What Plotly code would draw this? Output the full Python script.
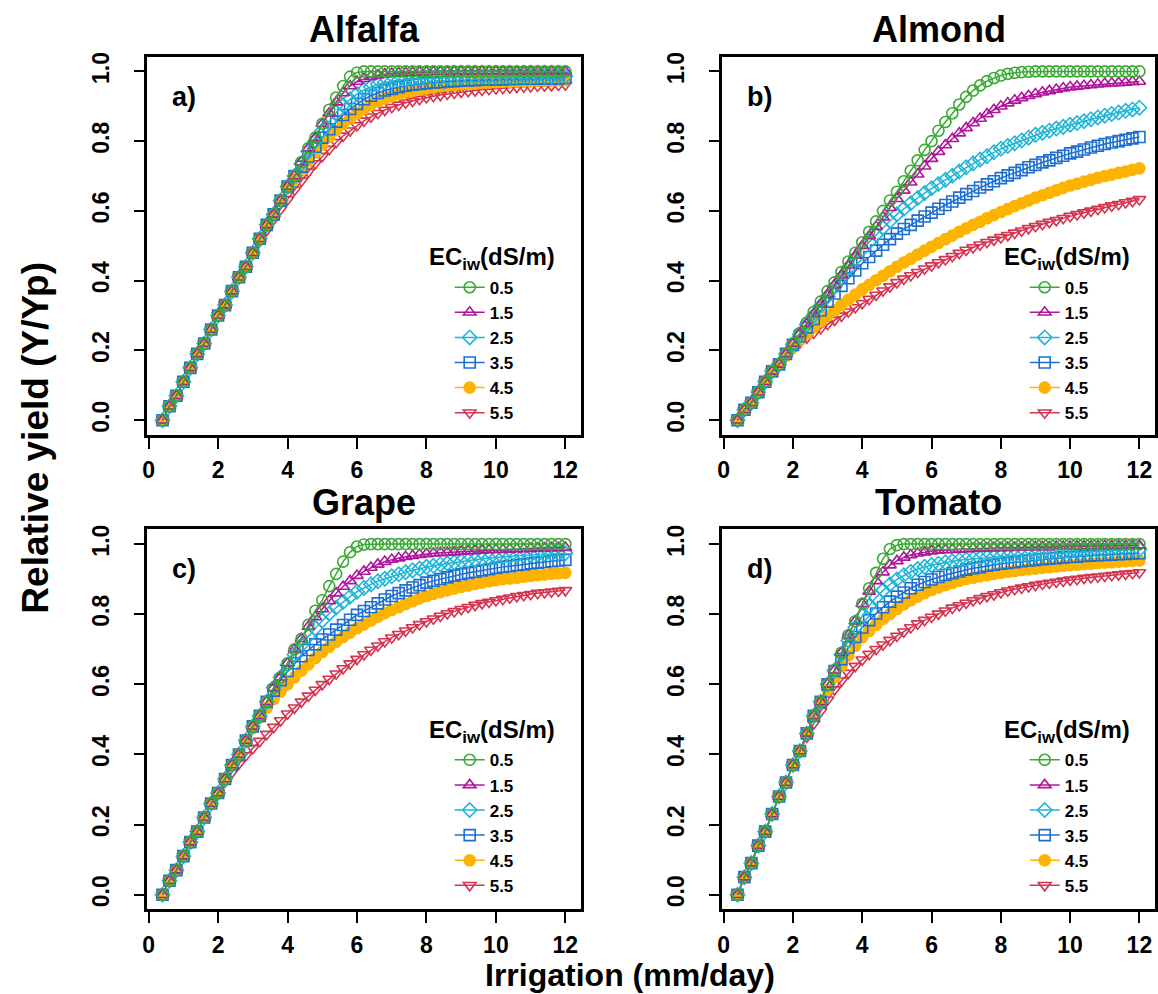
import plotly.graph_objects as go

# ---------------- data ----------------
X = [0.4, 0.6, 0.8, 1.0, 1.2, 1.4, 1.6, 1.8, 2.0, 2.2, 2.4, 2.6, 2.8, 3.0, 3.2, 3.4, 3.6, 3.8,
     4.0, 4.2, 4.4, 4.6, 4.8, 5.0, 5.2, 5.4, 5.6, 5.8, 6.0, 6.2, 6.4, 6.6, 6.8, 7.0, 7.2, 7.4,
     7.6, 7.8, 8.0, 8.2, 8.4, 8.6, 8.8, 9.0, 9.2, 9.4, 9.6, 9.8, 10.0, 10.2, 10.4, 10.6, 10.8,
     11.0, 11.2, 11.4, 11.6, 11.8, 12.0]

EC_LABELS = ["0.5", "1.5", "2.5", "3.5", "4.5", "5.5"]
CROPS = ["Alfalfa", "Almond", "Grape", "Tomato"]
PANEL_TAGS = ["a)", "b)", "c)", "d)"]
X_TICKS = [0, 2, 4, 6, 8, 10, 12]
Y_TICKS = [0.0, 0.2, 0.4, 0.6, 0.8, 1.0]
Y_TICK_TEXT = ["0.0", "0.2", "0.4", "0.6", "0.8", "1.0"]

# Alfalfa
ALF_05 = [0.00, 0.04, 0.07, 0.11, 0.15, 0.19, 0.22, 0.26, 0.30, 0.33, 0.37, 0.41, 0.44, 0.48, 0.52,
          0.56, 0.59, 0.63, 0.67, 0.70, 0.74, 0.78, 0.81, 0.85, 0.89, 0.925, 0.958, 0.985, 0.997,
          1.0, 1.0, 1.0, 1.0, 1.0, 1.0, 1.0, 1.0, 1.0, 1.0, 1.0, 1.0, 1.0, 1.0, 1.0, 1.0, 1.0, 1.0,
          1.0, 1.0, 1.0, 1.0, 1.0, 1.0, 1.0, 1.0, 1.0, 1.0, 1.0, 1.0]
ALF_15 = [0.00, 0.04, 0.07, 0.11, 0.15, 0.19, 0.22, 0.26, 0.30, 0.33, 0.37, 0.41, 0.44, 0.48, 0.52,
          0.56, 0.59, 0.63, 0.67, 0.70, 0.74, 0.78, 0.81, 0.85,
          0.88, 0.912, 0.938, 0.958, 0.971, 0.979, 0.985, 0.989, 0.992, 0.994, 0.995, 0.996, 0.997,
          0.998, 0.998, 0.999, 0.999, 0.999,
          1.0, 1.0, 1.0, 1.0, 1.0, 1.0, 1.0, 1.0, 1.0, 1.0, 1.0, 1.0, 1.0, 1.0, 1.0, 1.0, 1.0]
ALF_25 = [0.00, 0.04, 0.07, 0.11, 0.15, 0.19, 0.22, 0.26, 0.30, 0.33, 0.37, 0.41, 0.44, 0.48, 0.52,
          0.56, 0.59, 0.63, 0.67, 0.70,
          0.735, 0.77, 0.80, 0.83, 0.857, 0.882, 0.903, 0.92, 0.935, 0.947, 0.956, 0.963, 0.968,
          0.972, 0.975, 0.977, 0.978, 0.979, 0.98, 0.981, 0.981, 0.982, 0.982, 0.983, 0.983, 0.983,
          0.984, 0.984, 0.984, 0.985, 0.985, 0.985, 0.985, 0.985, 0.986, 0.986, 0.986, 0.986, 0.986]
ALF_35 = [0.00, 0.04, 0.07, 0.11, 0.15, 0.19, 0.22, 0.26, 0.30, 0.33, 0.37, 0.41, 0.44, 0.48, 0.52,
          0.56, 0.59, 0.63, 0.67,
          0.70, 0.727, 0.756, 0.784, 0.81, 0.834, 0.856, 0.875, 0.892, 0.907, 0.92, 0.93, 0.938,
          0.945, 0.95, 0.955, 0.959, 0.962, 0.964, 0.966, 0.968, 0.969, 0.971, 0.972, 0.973, 0.974,
          0.975, 0.976, 0.976, 0.977, 0.977, 0.978, 0.978, 0.979, 0.979, 0.979, 0.98, 0.98, 0.98, 0.981]
ALF_45 = [0.00, 0.04, 0.07, 0.11, 0.15, 0.19, 0.22, 0.26, 0.30, 0.33, 0.37, 0.41, 0.44, 0.48, 0.52,
          0.56, 0.59, 0.63,
          0.665, 0.69, 0.716, 0.742, 0.767, 0.79, 0.812, 0.832, 0.85, 0.866, 0.88, 0.893, 0.904,
          0.914, 0.922, 0.929, 0.935, 0.94, 0.944, 0.948, 0.951, 0.954, 0.957, 0.959, 0.961, 0.963,
          0.964, 0.965, 0.967, 0.968, 0.969, 0.97, 0.97, 0.971, 0.972, 0.972, 0.973, 0.974, 0.974,
          0.975, 0.975]
ALF_55 = [0.00, 0.04, 0.07, 0.11, 0.15, 0.19, 0.22, 0.26, 0.30, 0.33, 0.37, 0.41, 0.44, 0.48,
          0.513, 0.545, 0.576, 0.605, 0.633, 0.66, 0.686, 0.712, 0.736, 0.757, 0.777, 0.797, 0.815,
          0.83, 0.845, 0.858, 0.87, 0.88, 0.889, 0.897, 0.904, 0.91, 0.915, 0.92, 0.925, 0.929,
          0.932, 0.935, 0.938, 0.941, 0.943, 0.945, 0.947, 0.949, 0.951, 0.952, 0.953, 0.955, 0.956,
          0.957, 0.958, 0.959, 0.96, 0.961, 0.962]

# Almond
ALM_05 = [0.00, 0.03, 0.05, 0.08, 0.11, 0.14, 0.16, 0.19,
          0.22, 0.25, 0.28, 0.31, 0.34, 0.37, 0.395, 0.425, 0.455, 0.48, 0.51, 0.54, 0.57, 0.60,
          0.63, 0.655, 0.685, 0.715, 0.745, 0.775, 0.80, 0.83, 0.855, 0.88, 0.905, 0.927, 0.945,
          0.96, 0.972, 0.981, 0.988, 0.993, 0.996, 0.998, 0.999,
          1.0, 1.0, 1.0, 1.0, 1.0, 1.0, 1.0, 1.0, 1.0, 1.0, 1.0, 1.0, 1.0, 1.0, 1.0, 1.0]
ALM_15 = [0.00, 0.03, 0.05, 0.08, 0.11, 0.14, 0.16, 0.19,
          0.22, 0.248, 0.276, 0.304, 0.332, 0.36, 0.388, 0.416, 0.444, 0.472, 0.50, 0.528, 0.555,
          0.582, 0.609, 0.635, 0.659, 0.682, 0.705, 0.728, 0.75, 0.77, 0.789, 0.807, 0.823, 0.838,
          0.852, 0.865, 0.878, 0.89, 0.90, 0.909, 0.917, 0.924, 0.93, 0.935, 0.94, 0.944, 0.948,
          0.952, 0.955, 0.957, 0.959, 0.961, 0.963, 0.965, 0.966, 0.967, 0.968, 0.97, 0.971]
ALM_25 = [0.00, 0.03, 0.05, 0.08, 0.11, 0.14, 0.16, 0.19,
          0.218, 0.246, 0.274, 0.30, 0.328, 0.355, 0.382, 0.409, 0.436, 0.463, 0.49, 0.511, 0.532,
          0.552, 0.571, 0.59, 0.606, 0.622, 0.637, 0.651, 0.665, 0.677, 0.689, 0.701, 0.713, 0.725,
          0.736, 0.747, 0.757, 0.768, 0.778, 0.786, 0.794, 0.802, 0.81, 0.818, 0.824, 0.83, 0.836,
          0.841, 0.847, 0.852, 0.857, 0.863, 0.868, 0.873, 0.878, 0.882, 0.887, 0.891, 0.896]
ALM_35 = [0.00, 0.03, 0.05, 0.08, 0.11, 0.14, 0.16, 0.19,
          0.216, 0.241, 0.266, 0.29, 0.315, 0.34, 0.363, 0.385, 0.407, 0.429, 0.45, 0.468, 0.486,
          0.503, 0.519, 0.535, 0.548, 0.56, 0.572, 0.584, 0.595, 0.606, 0.617, 0.627, 0.638, 0.648,
          0.657, 0.667, 0.676, 0.685, 0.694, 0.702, 0.709, 0.717, 0.725, 0.732, 0.739, 0.745, 0.752,
          0.758, 0.765, 0.77, 0.776, 0.782, 0.787, 0.792, 0.796, 0.80, 0.804, 0.808, 0.812]
ALM_45 = [0.00, 0.03, 0.05, 0.08, 0.11, 0.14,
          0.16, 0.185, 0.208, 0.229, 0.248, 0.266, 0.283, 0.30,
          0.315, 0.33, 0.345, 0.36, 0.375, 0.388, 0.401, 0.414, 0.427, 0.44, 0.452, 0.463, 0.475,
          0.486, 0.497, 0.508, 0.519, 0.529, 0.54, 0.55, 0.56, 0.569, 0.579, 0.588, 0.597, 0.605,
          0.614, 0.622, 0.63, 0.638, 0.645, 0.652, 0.659, 0.666, 0.673, 0.678, 0.684, 0.689, 0.695,
          0.70, 0.704, 0.709, 0.713, 0.718, 0.722]
ALM_55 = [0.00, 0.03, 0.05, 0.08, 0.11, 0.14,
          0.16, 0.183, 0.205, 0.222, 0.236, 0.25, 0.263, 0.275,
          0.287, 0.299, 0.311, 0.323, 0.335, 0.347, 0.359, 0.371, 0.383, 0.395, 0.405, 0.415, 0.424,
          0.434, 0.443, 0.452, 0.461, 0.47, 0.479, 0.488, 0.495, 0.503, 0.51, 0.517, 0.524, 0.53,
          0.537, 0.543, 0.55, 0.556, 0.562, 0.568, 0.573, 0.579, 0.585, 0.59, 0.595, 0.60, 0.605,
          0.61, 0.615, 0.619, 0.624, 0.628, 0.633]

# Grape
GRA_05 = [0.00, 0.04, 0.07, 0.11, 0.15, 0.18, 0.22, 0.26, 0.29, 0.33, 0.37, 0.40, 0.44, 0.48, 0.51,
          0.55, 0.59, 0.62, 0.66, 0.70, 0.73, 0.77, 0.81, 0.84, 0.88, 0.915, 0.95, 0.977, 0.993, 0.999,
          1.0, 1.0, 1.0, 1.0, 1.0, 1.0, 1.0, 1.0, 1.0, 1.0, 1.0, 1.0, 1.0, 1.0, 1.0, 1.0, 1.0, 1.0,
          1.0, 1.0, 1.0, 1.0, 1.0, 1.0, 1.0, 1.0, 1.0, 1.0, 1.0]
GRA_15 = [0.00, 0.04, 0.07, 0.11, 0.15, 0.18, 0.22, 0.26, 0.29, 0.33, 0.37, 0.40, 0.44, 0.48, 0.51,
          0.55, 0.59, 0.62, 0.66, 0.70, 0.73,
          0.765, 0.792, 0.815, 0.838, 0.86, 0.879, 0.895, 0.91, 0.922, 0.933, 0.942, 0.95, 0.956,
          0.96, 0.964, 0.967, 0.97, 0.972, 0.974, 0.975, 0.976, 0.977, 0.979, 0.98, 0.981, 0.982,
          0.983, 0.984, 0.984, 0.985, 0.986, 0.986, 0.987, 0.988, 0.988, 0.989, 0.989, 0.99]
GRA_25 = [0.00, 0.04, 0.07, 0.11, 0.15, 0.18, 0.22, 0.26, 0.29, 0.33, 0.37, 0.40, 0.44, 0.48, 0.51,
          0.55, 0.59, 0.62,
          0.655, 0.685, 0.712, 0.737, 0.76, 0.782, 0.802, 0.819, 0.835, 0.85, 0.864, 0.875, 0.885,
          0.894, 0.901, 0.908, 0.914, 0.92, 0.925, 0.93, 0.935, 0.938, 0.942, 0.945, 0.948, 0.951,
          0.953, 0.955, 0.958, 0.96, 0.962, 0.963, 0.965, 0.966, 0.968, 0.969, 0.97, 0.971, 0.972,
          0.973, 0.974]
GRA_35 = [0.00, 0.04, 0.07, 0.11, 0.15, 0.18, 0.22, 0.26, 0.29, 0.33, 0.37, 0.40, 0.44, 0.48, 0.51,
          0.55,
          0.582, 0.612, 0.638, 0.66, 0.68, 0.698, 0.714, 0.728, 0.742, 0.756, 0.769, 0.784, 0.798,
          0.809, 0.82, 0.831, 0.842, 0.852, 0.86, 0.868, 0.876, 0.883, 0.89, 0.895, 0.9, 0.905, 0.91,
          0.914, 0.918, 0.921, 0.925, 0.928, 0.932, 0.935, 0.937, 0.94, 0.942, 0.945, 0.947, 0.949,
          0.951, 0.953, 0.955]
GRA_45 = [0.00, 0.04, 0.07, 0.11, 0.15, 0.18, 0.22, 0.26, 0.29, 0.33, 0.37, 0.40, 0.44,
          0.475, 0.505, 0.533, 0.558, 0.58, 0.60, 0.62, 0.639, 0.657, 0.675, 0.692, 0.707, 0.721,
          0.735, 0.748, 0.76, 0.771, 0.782, 0.793, 0.803, 0.812, 0.82, 0.829, 0.837, 0.845, 0.852,
          0.858, 0.863, 0.868, 0.873, 0.878, 0.882, 0.886, 0.89, 0.894, 0.897, 0.9, 0.902, 0.904,
          0.907, 0.909, 0.911, 0.913, 0.915, 0.917, 0.918]
GRA_55 = [0.00, 0.04, 0.07, 0.11, 0.15, 0.18, 0.22, 0.26, 0.29,
          0.322, 0.349, 0.374, 0.397, 0.418, 0.438, 0.458, 0.478, 0.497, 0.516, 0.533, 0.55, 0.567,
          0.584, 0.60, 0.615, 0.63, 0.645, 0.659, 0.672, 0.685, 0.698, 0.71, 0.722, 0.733, 0.743,
          0.753, 0.762, 0.771, 0.779, 0.787, 0.795, 0.802, 0.808, 0.814, 0.82, 0.826, 0.831, 0.835,
          0.839, 0.843, 0.847, 0.851, 0.854, 0.857, 0.86, 0.862, 0.864, 0.866, 0.868]

# Tomato
TOM_05 = [0.00, 0.05, 0.09, 0.14, 0.18, 0.23, 0.28, 0.32, 0.37, 0.41, 0.46, 0.51, 0.55, 0.60, 0.64,
          0.69, 0.74, 0.78, 0.83, 0.874, 0.918, 0.958, 0.986, 0.997,
          1.0, 1.0, 1.0, 1.0, 1.0, 1.0, 1.0, 1.0, 1.0, 1.0, 1.0, 1.0, 1.0, 1.0, 1.0, 1.0, 1.0, 1.0,
          1.0, 1.0, 1.0, 1.0, 1.0, 1.0, 1.0, 1.0, 1.0, 1.0, 1.0, 1.0, 1.0, 1.0, 1.0, 1.0, 1.0]
TOM_15 = [0.00, 0.05, 0.09, 0.14, 0.18, 0.23, 0.28, 0.32, 0.37, 0.41, 0.46, 0.51, 0.55, 0.60, 0.64,
          0.69, 0.74, 0.78, 0.83,
          0.865, 0.895, 0.92, 0.94, 0.952, 0.962, 0.969, 0.974, 0.977, 0.98, 0.982, 0.983, 0.984,
          0.985, 0.986, 0.987, 0.988, 0.988, 0.989, 0.989, 0.99, 0.99, 0.991, 0.991, 0.992, 0.992,
          0.992, 0.993, 0.993, 0.993, 0.994, 0.994, 0.994, 0.994, 0.995, 0.995, 0.995, 0.995, 0.996,
          0.996]
TOM_25 = [0.00, 0.05, 0.09, 0.14, 0.18, 0.23, 0.28, 0.32, 0.37, 0.41, 0.46, 0.51, 0.55, 0.60, 0.64,
          0.685, 0.725, 0.762, 0.795, 0.823, 0.848, 0.868, 0.885, 0.899, 0.911, 0.921, 0.929, 0.935,
          0.94, 0.944, 0.948, 0.951, 0.954, 0.956, 0.958, 0.96, 0.962, 0.963, 0.965, 0.966, 0.968,
          0.969, 0.97, 0.972, 0.973, 0.974, 0.975, 0.976, 0.977, 0.978, 0.979, 0.98, 0.98, 0.981,
          0.982, 0.983, 0.984, 0.984, 0.985]
TOM_35 = [0.00, 0.05, 0.09, 0.14, 0.18, 0.23, 0.28, 0.32, 0.37, 0.41, 0.46, 0.51, 0.55, 0.60,
          0.638, 0.672, 0.705, 0.735, 0.762, 0.783, 0.802, 0.82, 0.836, 0.85, 0.862, 0.874, 0.884,
          0.892, 0.899, 0.906, 0.912, 0.917, 0.922, 0.927, 0.931, 0.934, 0.938, 0.941, 0.944, 0.946,
          0.948, 0.951, 0.953, 0.955, 0.957, 0.958, 0.96, 0.962, 0.963, 0.964, 0.966, 0.967, 0.968,
          0.969, 0.97, 0.971, 0.972, 0.973, 0.974]
TOM_45 = [0.00, 0.05, 0.09, 0.14, 0.18, 0.23, 0.28, 0.32, 0.37, 0.41, 0.46, 0.51,
          0.548, 0.585, 0.62, 0.653, 0.682, 0.71, 0.735, 0.752, 0.769, 0.786, 0.801, 0.815, 0.828,
          0.84, 0.85, 0.86, 0.869, 0.876, 0.883, 0.889, 0.895, 0.90, 0.904, 0.908, 0.911, 0.915,
          0.918, 0.921, 0.923, 0.926, 0.928, 0.93, 0.932, 0.934, 0.936, 0.938, 0.94, 0.941, 0.943,
          0.944, 0.946, 0.947, 0.948, 0.95, 0.951, 0.952, 0.953]
TOM_55 = [0.00, 0.05, 0.09, 0.14, 0.18, 0.23, 0.28, 0.32, 0.37,
          0.41, 0.45, 0.488, 0.523, 0.556, 0.585, 0.61, 0.632, 0.652, 0.67, 0.686, 0.70, 0.713,
          0.726, 0.738, 0.75, 0.762, 0.773, 0.783, 0.792, 0.801, 0.81, 0.818, 0.825, 0.832, 0.839,
          0.845, 0.851, 0.856, 0.862, 0.867, 0.871, 0.875, 0.879, 0.883, 0.886, 0.889, 0.892, 0.895,
          0.898, 0.90, 0.903, 0.905, 0.907, 0.909, 0.911, 0.913, 0.915, 0.917, 0.919]

PANELS = [
    [ALF_05, ALF_15, ALF_25, ALF_35, ALF_45, ALF_55],
    [ALM_05, ALM_15, ALM_25, ALM_35, ALM_45, ALM_55],
    [GRA_05, GRA_15, GRA_25, GRA_35, GRA_45, GRA_55],
    [TOM_05, TOM_15, TOM_25, TOM_35, TOM_45, TOM_55],
]
for p in PANELS:
    for s in p:
        assert len(s) == len(X), len(s)

# ---------------- style ----------------
W, H = 1158, 994
FONT = "Liberation Sans, Arial, Helvetica, sans-serif"
COLORS = ["#3aa935", "#b0169c", "#1fb5d6", "#1c6fd1", "#fdb400", "#d5354f"]
SYMBOLS = ["circle-open", "triangle-up-open", "diamond-open", "square-open", "circle",
           "triangle-down-open"]

# plot boxes in pixels: (left, right, top, bottom)
BOXES = [(143, 579, 52, 432), (721, 1156, 52, 432),
         (143, 579, 527, 909), (721, 1156, 527, 909)]


def px(x):
    return x / W


def py(y):
    return 1 - y / H


fig = go.Figure()
layout = dict(
    width=W, height=H, margin=dict(l=0, r=0, t=0, b=0),
    paper_bgcolor="white", plot_bgcolor="white", showlegend=True,
    font=dict(family=FONT, color="black"),
)
tickfont = dict(family=FONT, size=23, color="black", weight="bold")
annotations = []

for i in range(4):
    l, r, t, b = BOXES[i]
    sfx = "" if i == 0 else str(i + 1)
    legname = "legend" + sfx
    for k in reversed(range(6)):
        fig.add_trace(go.Scatter(
            x=X, y=PANELS[i][k], mode="lines+markers", name=EC_LABELS[k],
            xaxis="x" + sfx, yaxis="y" + sfx, legend=legname,
            line=dict(color=COLORS[k], width=1.5),
            marker=dict(symbol=SYMBOLS[k], size=11, color=COLORS[k],
                        line=dict(color=COLORS[k], width=1.6)),
        ))
    layout["xaxis" + sfx] = dict(
        domain=[px(l), px(r)], anchor="y" + sfx, range=[-0.04, 12.45],
        tickvals=X_TICKS, ticktext=[str(v) for v in X_TICKS],
        ticks="outside", ticklen=11, tickwidth=1.8, tickcolor="black",
        showline=True, linewidth=2.5, linecolor="black", mirror=True,
        showgrid=False, zeroline=False, tickfont=tickfont, ticklabelstandoff=2,
    )
    layout["yaxis" + sfx] = dict(
        domain=[py(b), py(t)], anchor="x" + sfx, range=[-0.042, 1.042],
        tickvals=Y_TICKS, ticktext=Y_TICK_TEXT, tickangle=-90,
        ticks="outside", ticklen=11, tickwidth=1.8, tickcolor="black",
        showline=True, linewidth=2.5, linecolor="black", mirror=True,
        showgrid=False, zeroline=False, tickfont=tickfont, ticklabelstandoff=15,
    )
    layout[legname] = dict(
        x=px(l + 304), y=py(t + 214), xanchor="left", yanchor="top",
        bgcolor="rgba(0,0,0,0)", borderwidth=0, traceorder="reversed",
        font=dict(family=FONT, size=17, color="black", weight="bold"),
        itemclick=False,
    )
    # panel title
    annotations.append(dict(
        text="<b>%s</b>" % CROPS[i], x=px((l + r) / 2), y=py(t - 27),
        xref="paper", yref="paper", xanchor="center", yanchor="middle",
        showarrow=False, font=dict(family=FONT, size=36, color="black")))
    # panel tag
    annotations.append(dict(
        text="<b>%s</b>" % PANEL_TAGS[i], x=px(l + 37), y=py(t + 40),
        xref="paper", yref="paper", xanchor="center", yanchor="middle",
        showarrow=False, font=dict(family=FONT, size=27, color="black")))
    # legend title
    annotations.append(dict(
        text="<b>EC<sub>iw</sub>(dS/m)</b>", x=px(l + 281), y=py(t + 203),
        xref="paper", yref="paper", xanchor="left", yanchor="middle",
        showarrow=False, font=dict(family=FONT, size=24, color="black")))

annotations.append(dict(
    text="<b>Relative yield (Y/Yp)</b>", x=px(31), y=py(435), textangle=-90,
    xref="paper", yref="paper", xanchor="center", yanchor="middle",
    showarrow=False, font=dict(family=FONT, size=37, color="black")))
annotations.append(dict(
    text="<b>Irrigation (mm/day)</b>", x=px(628), y=py(975),
    xref="paper", yref="paper", xanchor="center", yanchor="middle",
    showarrow=False, font=dict(family=FONT, size=32, color="black")))

layout["annotations"] = annotations
fig.update_layout(**layout)
fig.write_html(
    "out.html",
    config={"displayModeBar": False},
    post_script="document.body.style.margin='0';document.body.style.overflow='hidden';",
)
